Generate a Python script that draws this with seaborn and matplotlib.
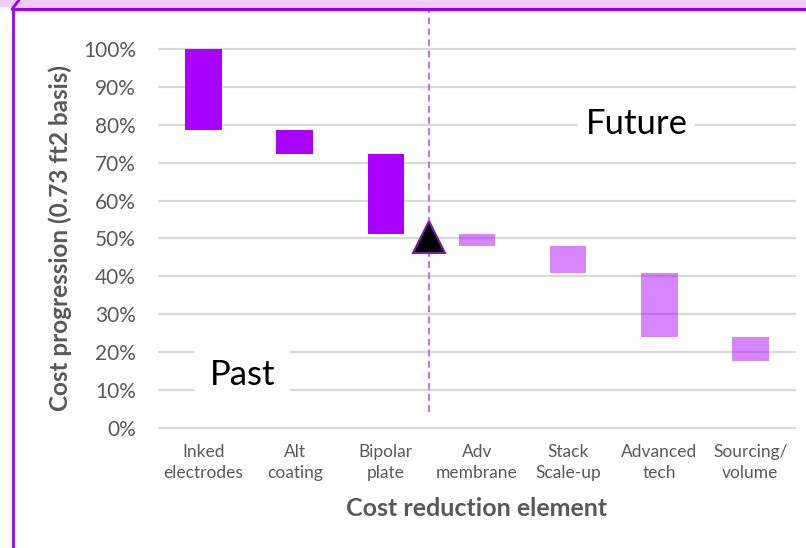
import matplotlib
matplotlib.use("Agg")
import matplotlib.pyplot as plt
import seaborn as sns
from matplotlib.lines import Line2D
from matplotlib.patches import Rectangle
from matplotlib.ticker import FuncFormatter

# ---- data ----
categories = ["Inked\nelectrodes", "Alt\ncoating", "Bipolar\nplate", "Adv\nmembrane",
              "Stack\nScale-up", "Advanced\ntech", "Sourcing/\nvolume"]
bar_tops = [100.0, 78.6, 72.4, 51.1, 48.0, 41.0, 24.0]
bar_bottoms = [78.6, 72.4, 51.2, 48.0, 41.0, 24.0, 17.8]
phase = ["Past", "Past", "Past", "Future", "Future", "Future", "Future"]
marker_x = 2.47
marker_y = 50.5
yticks = [0, 10, 20, 30, 40, 50, 60, 70, 80, 90, 100]

sns.set_theme(style="white")
plt.rcParams['font.family'] = ['Lato', 'DejaVu Sans']

W, H = 806, 548
fig = plt.figure(figsize=(W / 100, H / 100), dpi=100)
fig.patch.set_facecolor("white")

ax_left, ax_right = 158, 796
y0_px, y100_px = 428, 49
ppu = (y0_px - y100_px) / 100.0
ymin, ymax = -1, 101
ax_bottom_px = y0_px - ymin * ppu
ax_top_px = y0_px - ymax * ppu
ax_h_px = ax_bottom_px - ax_top_px
ax = fig.add_axes([ax_left / W, 1 - ax_bottom_px / H,
                   (ax_right - ax_left) / W, ax_h_px / H])
ax.set_facecolor("none")

solid = "#AA00FF"
grid_c = "#D9D9D9"
txt_c = "#595959"

for yv in yticks:
    ax.axhline(yv, color=grid_c, lw=1.6, zorder=0)

heights = [t - b for t, b in zip(bar_tops, bar_bottoms)]
past_idx = [i for i, p in enumerate(phase) if p == "Past"]
fut_idx = [i for i, p in enumerate(phase) if p == "Future"]

sns.barplot(x=[categories[i] for i in past_idx], y=[heights[i] for i in past_idx],
            order=categories, bottom=[bar_bottoms[i] for i in past_idx],
            color=solid, saturation=1, width=0.4, errorbar=None, ax=ax,
            edgecolor="none", zorder=2)
sns.barplot(x=[categories[i] for i in fut_idx], y=[heights[i] for i in fut_idx],
            order=categories, bottom=[bar_bottoms[i] for i in fut_idx],
            color=solid, saturation=1, alpha=0.48, width=0.4, errorbar=None, ax=ax,
            edgecolor="none", zorder=2)

# divider line (past / future)
y_top_line = (y0_px - 9) / ppu
y_bot_line = (y0_px - 412) / ppu
ax.plot([marker_x, marker_x], [y_bot_line, y_top_line], color="#CC66FF", lw=1.4,
        ls=(0, (3.5, 2.2)), clip_on=False, zorder=1)
ax.plot([marker_x], [marker_y], marker="^", markersize=23.5, color="black",
        markeredgecolor="#7A1FA2", markeredgewidth=1.5, zorder=4, clip_on=False)

ax.text(4.75, 77.6, "Future", fontsize=25, color="black", ha="center", va="baseline",
        bbox=dict(boxstyle="square,pad=0.22", fc="white", ec="none"), zorder=3)
ax.text(0.43, 11.35, "Past", fontsize=25, color="black", ha="center", va="baseline",
        bbox=dict(boxstyle="square,pad=0.42", fc="white", ec="none"), zorder=3)

ax.set_xlim(-0.5, 6.5)
ax.set_ylim(ymin, ymax)
ax.set_yticks(yticks)
ax.yaxis.set_major_formatter(FuncFormatter(lambda v, p: f"{int(v)}%"))
ax.tick_params(axis="y", length=0, pad=16, labelsize=15, labelcolor=txt_c)
ax.tick_params(axis="x", length=0, pad=9, labelsize=12.5, labelcolor=txt_c)
for lab in ax.get_xticklabels():
    lab.set_linespacing(1.38)
for s in ax.spines.values():
    s.set_visible(False)

ax.set_xlabel("Cost reduction element", fontsize=18, fontweight="bold", color=txt_c,
              va="center")
ax.xaxis.set_label_coords(0.5, (ax_bottom_px - 508) / ax_h_px)
ax.set_ylabel("Cost progression (0.73 ft2 basis)", fontsize=17.5, fontweight="bold",
              color=txt_c, va="center")
ax.yaxis.set_label_coords((60 - ax_left) / (ax_right - ax_left),
                          (ax_bottom_px - 238) / ax_h_px)

# slide frame
fig.patches.append(Rectangle((0, 1 - 7 / H), 1, 7 / H, transform=fig.transFigure,
                             facecolor="#F0CCFF", edgecolor="none", zorder=0))
fig.lines.append(Line2D([12 / W, 1], [1 - 8.5 / H, 1 - 8.5 / H], transform=fig.transFigure,
                        color="#A000F0", lw=2.4))
fig.lines.append(Line2D([12.5 / W, 12.5 / W], [0, 1 - 8.5 / H], transform=fig.transFigure,
                        color="#A000F0", lw=2.0))
fig.lines.append(Line2D([12.5 / W, 19 / W], [1 - 8.5 / H, 1], transform=fig.transFigure,
                        color="#A000F0", lw=2.0))

fig.savefig("out.png", dpi=100)
